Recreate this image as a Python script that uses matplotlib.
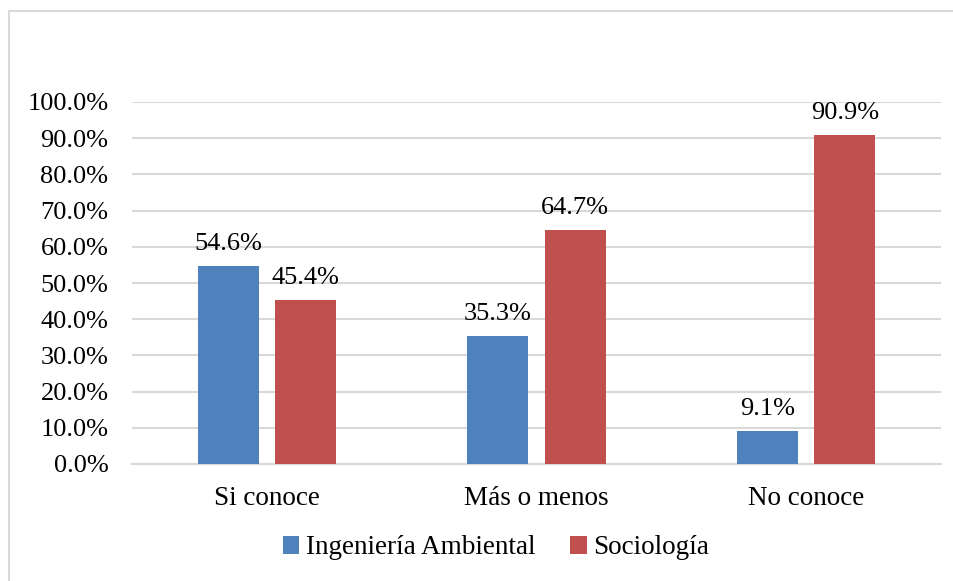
import matplotlib
matplotlib.use("Agg")
import matplotlib.pyplot as plt
from matplotlib.patches import Rectangle
import numpy as np

categories = ["Si conoce", "Más o menos", "No conoce"]
series_names = ["Ingeniería Ambiental", "Sociología"]
ing_amb = [54.6, 35.3, 9.1]
sociologia = [45.4, 64.7, 90.9]
yticks = [0, 10, 20, 30, 40, 50, 60, 70, 80, 90, 100]
colors = ["#4F81BD", "#C0504D"]

plt.rcParams['font.family'] = ['Liberation Serif', 'DejaVu Serif']

W, H = 954, 581
fig = plt.figure(figsize=(W / 100, H / 100), dpi=100)
fig.patches.append(Rectangle((9.5 / W, -10 / H), 980 / W, (581 - 11 + 10) / H, transform=fig.transFigure,
                             fill=False, edgecolor="#D9D9D9", linewidth=1.5, clip_on=False))

ax = fig.add_axes([132 / W, 1 - 464 / H, 809 / W, 362 / H])
x = np.arange(len(categories))
width = 0.226
off = 0.143
b1 = ax.bar(x - off, ing_amb, width, color=colors[0], label=series_names[0], zorder=3)
b2 = ax.bar(x + off, sociologia, width, color=colors[1], label=series_names[1], zorder=3)

for bars, vals in ((b1, ing_amb), (b2, sociologia)):
    for r, v in zip(bars, vals):
        ax.annotate(f"{v:.1f}%", (r.get_x() + r.get_width() / 2, v), xytext=(0, 8),
                    textcoords="offset points", ha="center", va="bottom", fontsize=19, color="#000000")

ax.set_xlim(-0.5, 2.5)
ax.set_ylim(0, 100)
ax.set_yticks(yticks)
ax.set_yticklabels([f"{t:.1f}%" for t in yticks], fontsize=19)
ax.set_xticks(x)
ax.set_xticklabels(categories, fontsize=19.5)
ax.grid(axis="y", color="#D9D9D9", linewidth=1.5, zorder=0)
for s in ["top", "right", "left"]:
    ax.spines[s].set_visible(False)
ax.spines["bottom"].set_color("#D9D9D9")
ax.spines["bottom"].set_linewidth(1.5)
ax.tick_params(axis="both", length=0)
ax.tick_params(axis="y", pad=17)
ax.tick_params(axis="x", pad=16)

leg = fig.legend(handles=[b1, b2], labels=series_names, loc="center", bbox_to_anchor=(496 / W, 1 - 548 / H),
                 ncol=2, frameon=False, fontsize=19.5, handlelength=0.6, handleheight=0.6,
                 handletextpad=0.25, columnspacing=1.3)

fig.savefig("out.png", dpi=100)
